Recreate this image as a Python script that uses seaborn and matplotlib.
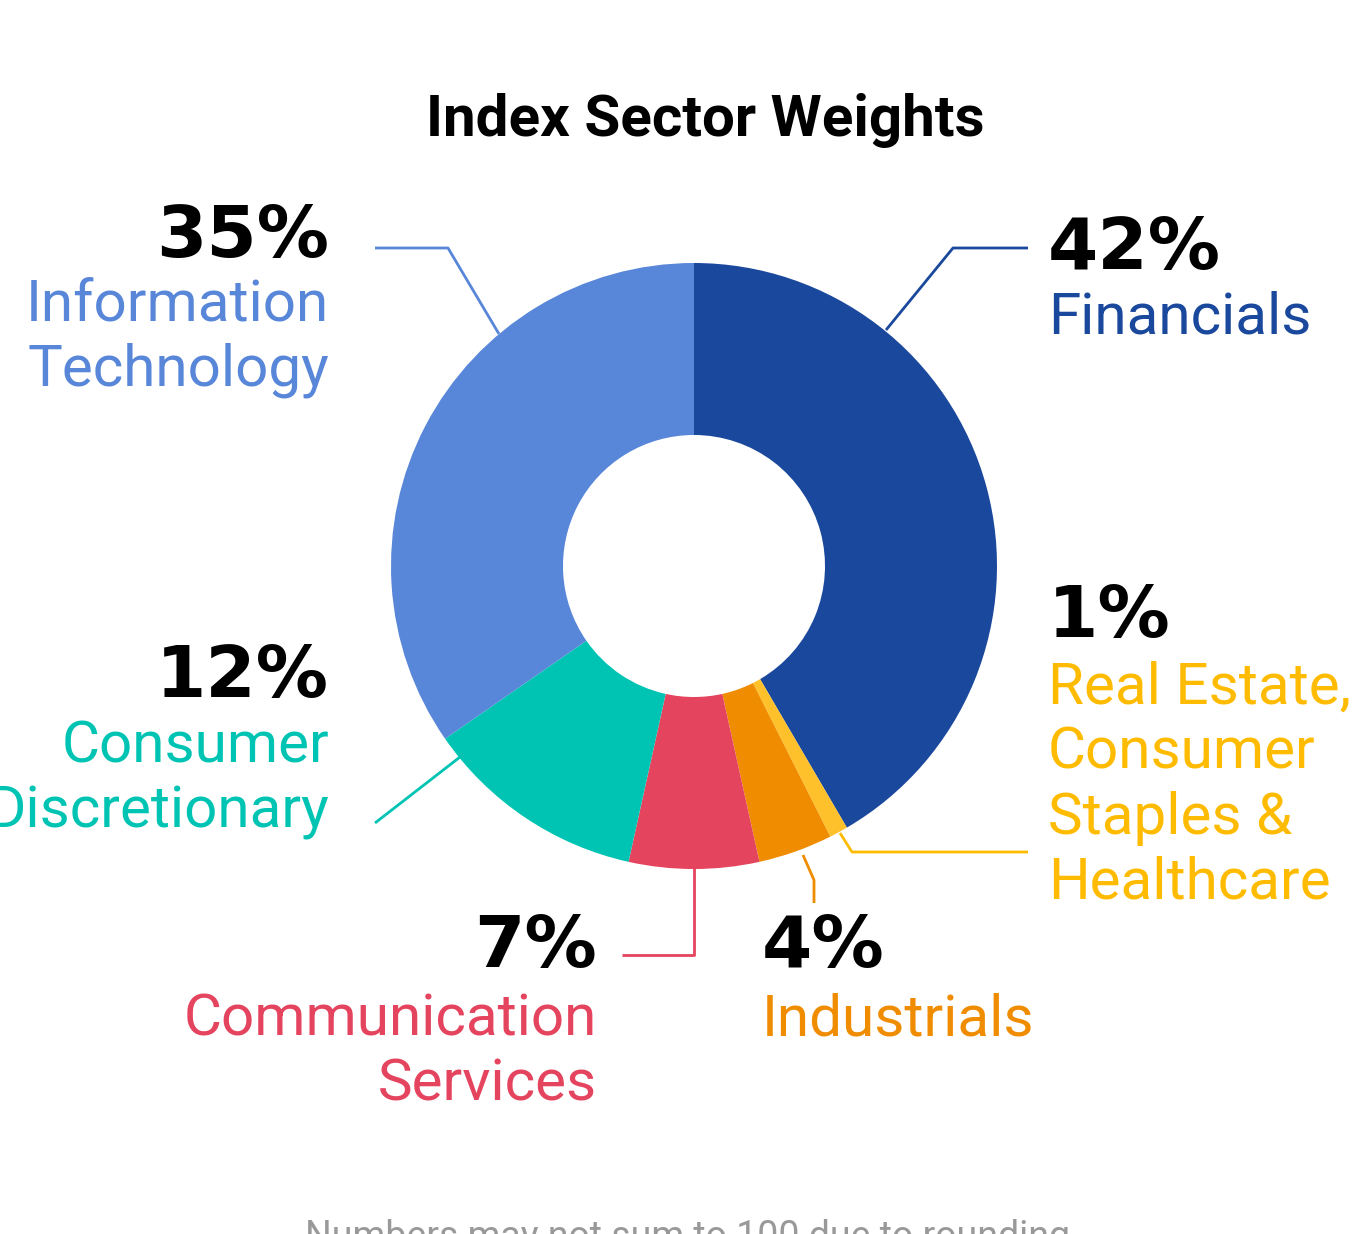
import matplotlib
matplotlib.use("Agg")
import matplotlib.pyplot as plt
import seaborn as sns

# Дані
sectors = ["Financials", "Real Estate, Consumer Staples & Healthcare", "Industrials",
           "Communication Services", "Consumer Discretionary", "Information Technology"]
weights = [42, 1, 4, 7, 12, 35]
pct_labels = ["42%", "1%", "4%", "7%", "12%", "35%"]
label_lines = [["Financials"],
               ["Real Estate,", "Consumer", "Staples &", "Healthcare"],
               ["Industrials"],
               ["Communication", "Services"],
               ["Consumer", "Discretionary"],
               ["Information", "Technology"]]
colors = ["#1a489c", "#fec12c", "#f08c00", "#e5445f", "#00c4b3", "#5886d8"]
text_colors = ["#1a489c", "#ffbb00", "#f08c00", "#e5445f", "#00c4b3", "#5886d8"]

sns.set_theme(style="white")
plt.rcParams["font.family"] = ["Roboto", "DejaVu Sans"]

W, H = 1369, 1234
fig = plt.figure(figsize=(W / 100, H / 100), dpi=100)
ax = fig.add_axes([0, 0, 1, 1])


def Y(py):
    return H - py


cx, cy, r_out, r_in = 694, 566, 303, 131
ax.pie(weights, colors=colors, startangle=90, counterclock=False,
       center=(cx, Y(cy)), radius=r_out,
       wedgeprops=dict(width=r_out - r_in, linewidth=0))
ax.set_xlim(0, W)
ax.set_ylim(0, H)
ax.set_aspect("equal")
ax.axis("off")

# Лінії-виноски
leaders = [
    ([886, 953, 1028], [330, 248, 248]),
    ([840, 852, 1028], [833, 852, 852]),
    ([803, 814, 814], [855, 880, 903]),
    ([694, 694, 622], [868, 955, 955]),
    ([460, 375], [757, 823]),
    ([499, 448, 375], [334, 248, 248]),
]
for (xs, ys), c in zip(leaders, text_colors):
    ax.plot(xs, [Y(v) for v in ys], color=c, lw=2, solid_capstyle="butt")

# Підписи: (x, y відсотка, вирівнювання, y перших рядків)
placements = [
    (1048, 250, "left", 318),
    (1048, 617, "left", 688),
    (762, 948, "left", 1020),
    (597, 948, "right", 1020),
    (329, 677, "right", 747),
    (329, 237, "right", 305),
]
line_gap = 65
for (x, yp, ha, yl), pct, lines, c in zip(placements, pct_labels, label_lines, text_colors):
    ax.text(x, Y(yp), pct, ha=ha, va="center", fontsize=52, fontweight="bold",
            family="DejaVu Sans", color="black")
    for i, line in enumerate(lines):
        ax.text(x, Y(yl + i * line_gap), line, ha=ha, va="center", fontsize=42,
                color=c)

ax.text(705, Y(120), "Index Sector Weights", ha="center", va="center",
        fontsize=42, fontweight="bold", color="black")
ax.text(688, Y(1237), "Numbers may not sum to 100 due to rounding", ha="center",
        va="center", fontsize=27, color="#999999")

fig.savefig("out.png", dpi=100)
